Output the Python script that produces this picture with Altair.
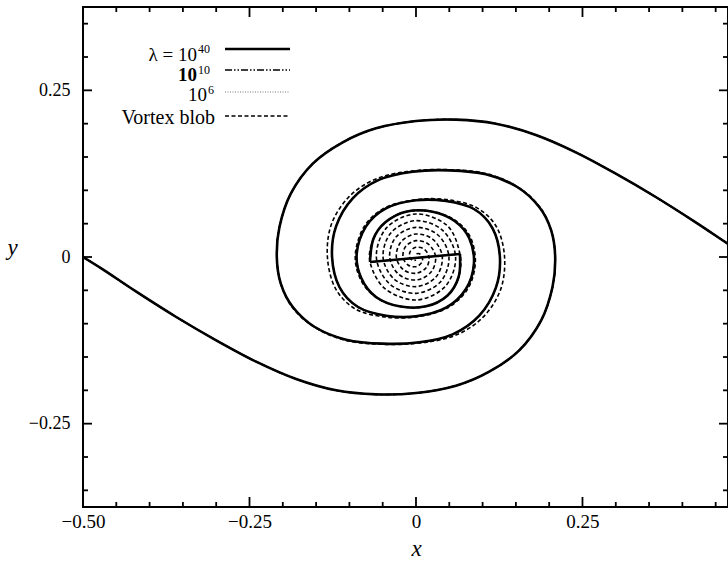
import altair as alt
import pandas as pd

# --- sheet geometry ---------------------------------------------------------
# Outer turn of the arm leaving the left end (x = -0.5), down to its right-most point.
outer_a_x = [-0.500, -0.468, -0.420, -0.360, -0.300, -0.240, -0.180, -0.120, -0.060, 0.000,
             0.060, 0.110, 0.155, 0.188, 0.205, 0.209]
outer_a_y = [0.000, -0.020, -0.052, -0.090, -0.125, -0.157, -0.183, -0.200, -0.206, -0.204,
             -0.193, -0.172, -0.140, -0.095, -0.045, 0.000]
# Outer turn of the arm leaving the right end (x = +0.5), down to its left-most point.
outer_b_x = [0.500, 0.468, 0.420, 0.360, 0.300, 0.240, 0.180, 0.120, 0.060, 0.000,
             -0.060, -0.110, -0.155, -0.188, -0.205, -0.209]
outer_b_y = [0.000, 0.020, 0.052, 0.090, 0.125, 0.157, 0.183, 0.200, 0.206, 0.204,
             0.193, 0.172, 0.140, 0.095, 0.045, 0.000]

# Inner turns of the desingularised (lambda) runs, ending on the core cut.
tail_a_x = [0.203, 0.185, 0.152, 0.105, 0.050, -0.005, -0.055, -0.095, -0.120, -0.126,
            -0.115, -0.087, -0.045, 0.000, 0.045, 0.075, 0.087, 0.080, 0.058, 0.025,
            -0.015, -0.046, -0.064, -0.069]
tail_a_y = [0.040, 0.075, 0.105, 0.124, 0.130, 0.128, 0.116, 0.088, 0.046, 0.000,
            -0.045, -0.075, -0.088, -0.089, -0.076, -0.048, -0.010, 0.028, 0.054, 0.068,
            0.068, 0.052, 0.027, -0.0075]
tail_b_x = [-0.203, -0.185, -0.152, -0.105, -0.050, 0.005, 0.055, 0.095, 0.120, 0.126,
            0.115, 0.087, 0.045, 0.000, -0.045, -0.075, -0.089, -0.082, -0.060, -0.025,
            0.015, 0.047, 0.064, 0.066]
tail_b_y = [-0.040, -0.075, -0.105, -0.124, -0.130, -0.128, -0.116, -0.088, -0.046, 0.000,
            0.043, 0.072, 0.084, 0.085, 0.073, 0.046, 0.005, -0.032, -0.060, -0.074,
            -0.074, -0.058, -0.030, 0.0045]
# Straight core segment joining the two arm ends
cut_x = [-0.069, 0.066]
cut_y = [-0.0075, 0.0045]

# Inner turns of the vortex-blob run (second turn bulges out at the sides, then rolls to the centre).
blob_tail_a_x = [0.203, 0.186, 0.153, 0.106, 0.050, -0.006, -0.058, -0.100, -0.127, -0.133,
                 -0.121, -0.091, -0.047, 0.000, 0.046, 0.077, 0.089, 0.082, 0.059, 0.025,
                 -0.015, -0.046, -0.064, -0.069]
blob_tail_a_y = [0.040, 0.075, 0.105, 0.125, 0.131, 0.129, 0.118, 0.091, 0.049, 0.000,
                 -0.047, -0.078, -0.090, -0.090, -0.077, -0.049, -0.010, 0.029, 0.055, 0.068,
                 0.068, 0.052, 0.027, -0.0075]
blob_tail_b_x = [-0.203, -0.186, -0.153, -0.106, -0.050, 0.006, 0.058, 0.100, 0.127, 0.133,
                 0.121, 0.091, 0.047, 0.000, -0.046, -0.077, -0.091, -0.084, -0.061, -0.025,
                 0.015, 0.047, 0.064, 0.066]
blob_tail_b_y = [-0.040, -0.075, -0.105, -0.125, -0.131, -0.129, -0.118, -0.091, -0.049, 0.000,
                 0.045, 0.074, 0.086, 0.086, 0.074, 0.047, 0.005, -0.032, -0.060, -0.074,
                 -0.074, -0.058, -0.030, 0.0045]
core_a_x = [-0.047, 0.000, 0.044, 0.0595, 0.040, 0.000, -0.037, -0.0495, -0.033, 0.000,
            0.030, 0.0395, 0.026, 0.000, -0.0226, -0.0295, -0.019, 0.000, 0.0156, 0.0195,
            0.012, 0.000, -0.0085, -0.0095, -0.005, 0.000]
core_a_y = [-0.047, -0.0645, -0.044, 0.000, 0.040, 0.0545, 0.037, 0.000, -0.033, -0.0445,
            -0.030, 0.000, 0.026, 0.0345, 0.0226, 0.000, -0.019, -0.0245, -0.0156, 0.000,
            0.012, 0.0145, 0.0085, 0.000, -0.005, -0.0045]
core_b_x = [0.047, 0.000, -0.044, -0.0595, -0.040, 0.000, 0.037, 0.0495, 0.033, 0.000,
            -0.030, -0.0395, -0.026, 0.000, 0.0226, 0.0295, 0.019, 0.000, -0.0156, -0.0195,
            -0.012, 0.000, 0.0085, 0.0095, 0.005, 0.000]
core_b_y = [0.047, 0.0645, 0.044, 0.000, -0.040, -0.0545, -0.037, 0.000, 0.033, 0.0445,
            0.030, 0.000, -0.026, -0.0345, -0.0226, 0.000, 0.019, 0.0245, 0.0156, 0.000,
            -0.012, -0.0145, -0.0085, 0.000, 0.005, 0.0045]

# Axis tick positions
x_major = [-0.25, 0.0, 0.25]
x_minor = [-0.45, -0.40, -0.35, -0.30, -0.20, -0.15, -0.10, -0.05,
           0.05, 0.10, 0.15, 0.20, 0.30, 0.35, 0.40, 0.45]
y_major = [-0.25, 0.0, 0.25]
y_minor = [-0.35, -0.30, -0.20, -0.15, -0.10, -0.05, 0.05, 0.10, 0.15, 0.20, 0.30, 0.35]
x_labels = [-0.5, -0.25, 0.0, 0.25]
y_labels = [-0.25, 0.0, 0.25]

# Legend entries: base text and superscript
legend_base = ["λ = 10", "10", "10", "Vortex blob"]
legend_exp = ["40", "10", "6", ""]


# --- assemble paths ------------------------------------------------------------
def frame(xs, ys, arm):
    return pd.DataFrame({"arm": arm, "i": list(range(len(xs))), "x": xs, "y": ys})


lam_df = pd.concat([frame(outer_a_x + tail_a_x, outer_a_y + tail_a_y, "a"),
                    frame(outer_b_x + tail_b_x, outer_b_y + tail_b_y, "b"),
                    frame(cut_x, cut_y, "cut")])
blob_df = pd.concat([frame(outer_a_x + blob_tail_a_x + core_a_x, outer_a_y + blob_tail_a_y + core_a_y, "a"),
                     frame(outer_b_x + blob_tail_b_x + core_b_x, outer_b_y + blob_tail_b_y + core_b_y, "b")])

W, H = 645, 500
FONT = "Liberation Serif"
x_scale = alt.Scale(domain=[-0.5, 0.4685], nice=False, zero=False)
y_scale = alt.Scale(domain=[-0.375, 0.375], nice=False, zero=False)
label_expr = "datum.value == 0 ? '0' : format(datum.value, '.2f')"

x_axis = alt.Axis(values=x_labels, labelExpr=label_expr, ticks=False, domain=False, grid=False,
                  labelFont=FONT, labelFontSize=19, labelColor="black", labelPadding=5,
                  labelFlush=False, labelOverlap=False,
                  title="x", titleFont=FONT, titleFontSize=23, titleFontStyle="italic",
                  titleFontWeight="normal", titleColor="black", titleX=333, titleY=48,
                  titleAlign="center", titleBaseline="alphabetic")
y_axis = alt.Axis(values=y_labels, labelExpr=label_expr, ticks=False, domain=False, grid=False,
                  labelFont=FONT, labelFontSize=18, labelColor="black", labelPadding=13,
                  labelFlush=False, labelOverlap=False,
                  title="y", titleFont=FONT, titleFontSize=23, titleFontStyle="italic",
                  titleFontWeight="normal", titleColor="black", titleAngle=0, titleX=-71, titleY=240,
                  titleAlign="center", titleBaseline="middle")

X = alt.X("x:Q", scale=x_scale, axis=x_axis)
Y = alt.Y("y:Q", scale=y_scale, axis=y_axis)


def curve(df, color="black", **style):
    return alt.Chart(df).mark_line(clip=True, interpolate="cardinal", color=color, **style).encode(
        x=X, y=Y, detail="arm:N", order="i:Q")


blob = curve(blob_df, strokeWidth=1.6, strokeDash=[4, 2.5])
lam6 = curve(lam_df, color="#444444", strokeWidth=1.4, strokeDash=[1, 1.5])
lam10 = curve(lam_df, strokeWidth=1.5, strokeDash=[7, 2, 1.5, 2, 1.5, 2])
lam40 = curve(lam_df, strokeWidth=2.6)


# --- inward-pointing frame ticks ----------------------------------------------------
def xticks(vals, length, side):
    y0 = H if side == "bottom" else 0
    y1 = y0 - length if side == "bottom" else length
    return alt.Chart(pd.DataFrame({"x": vals})).mark_rule(color="black", strokeWidth=1.8).encode(
        x=X, y=alt.value(y0), y2=alt.value(y1))


def yticks(vals, length, side):
    x0 = 0 if side == "left" else W
    x1 = length if side == "left" else W - length
    return alt.Chart(pd.DataFrame({"y": vals})).mark_rule(color="black", strokeWidth=1.8).encode(
        y=Y, x=alt.value(x0), x2=alt.value(x1))


ticks = [xticks(x_major, 10, "bottom"), xticks(x_minor, 5, "bottom"),
         xticks(x_major, 10, "top"), xticks(x_minor, 5, "top"),
         yticks(y_major, 9, "left"), yticks(y_minor, 5, "left"),
         yticks(y_major, 9, "right"), yticks(y_minor, 5, "right")]

# --- legend drawn inside the frame ----------------------------------------------------
base_right = [114, 114, 124, 132]
base_line = [54, 74, 94, 117]
base_size = [19, 19, 19, 20]
exp_line = [46, 67, 87, 0]
sample_y = [42, 63, 85, 109]
sample_style = [dict(strokeWidth=2.4),
                dict(strokeWidth=1.4, strokeDash=[7, 2, 1.5, 2, 1.5, 2]),
                dict(strokeWidth=1.2, strokeDash=[1, 1.5], color="#777777"),
                dict(strokeWidth=1.6, strokeDash=[4, 2.5])]
legend = []
for k in range(4):
    legend.append(alt.Chart(pd.DataFrame({"t": [legend_base[k]]})).mark_text(
        font=FONT, fontSize=base_size[k], align="right", baseline="alphabetic", color="black",
        fontWeight="bold" if k == 1 else "normal").encode(
        text="t:N", x=alt.value(base_right[k]), y=alt.value(base_line[k])))
    if legend_exp[k]:
        legend.append(alt.Chart(pd.DataFrame({"t": [legend_exp[k]]})).mark_text(
            font=FONT, fontSize=12, align="left", baseline="alphabetic", color="black").encode(
            text="t:N", x=alt.value(base_right[k] + 1), y=alt.value(exp_line[k])))
    style = dict(color="black")
    style.update(sample_style[k])
    legend.append(alt.Chart(pd.DataFrame({"t": [legend_base[k]]})).mark_rule(**style).encode(
        x=alt.value(142), x2=alt.value(207), y=alt.value(sample_y[k])))

chart = alt.layer(blob, lam6, lam10, lam40, *ticks, *legend).properties(
    width=W, height=H,
    autosize=alt.AutoSizeParams(type="none"),
    padding={"left": 83, "top": 7, "right": 0, "bottom": 54},
    background="white",
).configure_view(stroke="black", strokeWidth=2)

chart.save("out.html", embed_options={"renderer": "svg", "actions": False})
